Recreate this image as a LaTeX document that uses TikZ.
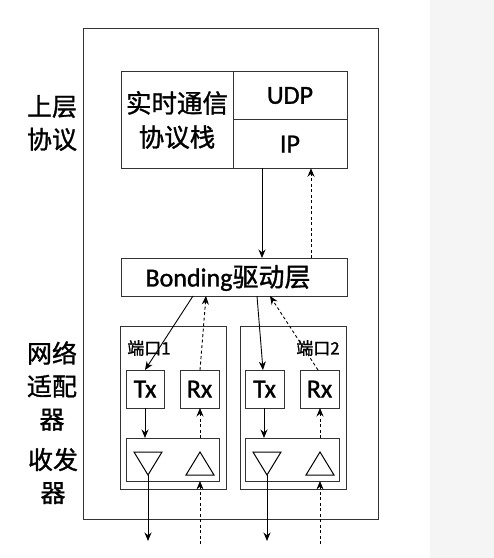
\documentclass[tikz,border=0pt]{standalone}
\usepackage{fontspec}
\setmainfont{Carlito}[FakeBold=1.2]
\newfontfamily\cjk{Noto Sans CJK SC}[FakeBold=1.2]
\usetikzlibrary{arrows.meta}
\begin{document}
\begin{tikzpicture}[x=1pt,y=-1pt,
  box/.style={draw=black!80, line width=0.8pt, rectangle, inner sep=0pt, outer sep=0pt},
  sol/.style={draw=black, line width=0.9pt, -{Stealth[length=8.5pt,width=7pt]}},
  dsh/.style={sol, dash pattern=on 3pt off 2.5pt},
  tri/.style={draw=black, line width=1pt, line join=miter},
  side/.style={font=\cjk\fontsize{25}{33}\selectfont, align=center, inner sep=0pt},
  big/.style={font=\fontsize{26}{34}\selectfont, align=center, inner sep=0pt},
  bigcjk/.style={font=\cjk\fontsize{25.5}{34}\selectfont, align=center, inner sep=0pt},
  port/.style={font=\cjk\fontsize{17}{18}\selectfont, inner sep=0pt}]
\useasboundingbox (0,0) rectangle (494,558);
\fill[white] (0,0) rectangle (494,558);
\fill[black!4] (430,0) rectangle (494,558);

% outer frame
\node[box, minimum width=295pt, minimum height=491pt] (outer) at (230.5,273.5) {};

% top protocol stack
\node[box, minimum width=112pt, minimum height=97pt] (rt) at (177,119.5) {};
\node[bigcjk] (rttext) at (177,120) {实时通信\\协议栈};
\node[box, minimum width=114pt, minimum height=48.5pt, big] (udp) at (290,95.5) {UDP};
\node[box, minimum width=114pt, minimum height=48.5pt, big] (ip) at (290,144) {IP};

% bonding
\node[box, minimum width=226pt, minimum height=38pt] (bond) at (234,277) {};
\node[inner sep=0pt] (bondtext) at (228,278) {\fontsize{26}{30}\selectfont Bonding{\cjk 驱动层}};

% ports
\node[box, minimum width=106pt, minimum height=163pt] (p1) at (173,407.5) {};
\node[box, minimum width=106pt, minimum height=163pt] (p2) at (293,407.5) {};
\node[port] (p1l) at (149,348) {端口1};
\node[port] (p2l) at (318,348) {端口2};

\node[box, minimum width=38pt, minimum height=38pt, big] (tx1) at (145,389) {Tx};
\node[box, minimum width=39pt, minimum height=38pt, big] (rx1) at (199.5,389) {Rx};
\node[box, minimum width=39pt, minimum height=38pt, big] (tx2) at (264.5,389) {Tx};
\node[box, minimum width=39pt, minimum height=38pt, big] (rx2) at (319.5,389) {Rx};

\node[box, minimum width=93pt, minimum height=43pt] (tr1) at (172.5,459.5) {};
\node[box, minimum width=94pt, minimum height=43pt] (tr2) at (292,459.5) {};

% triangles
\draw[tri] (134,452) -- (162,452) -- (148,475) -- cycle;
\draw[tri] (186,475) -- (214,475) -- (200,452) -- cycle;
\draw[tri] (253,452) -- (281,452) -- (267,475) -- cycle;
\draw[tri] (306,475) -- (334,475) -- (320,452) -- cycle;
\coordinate (a1) at (148,475);
\coordinate (a2) at (267,475);
\coordinate (o1) at (148,541);
\coordinate (i1) at (200,544);
\coordinate (o2) at (267,541);
\coordinate (i2) at (320,544);

% side labels
\node[side] (l1) at (52,123) {上层\\协议};
\node[side] (l2) at (52,386) {网络\\适配\\器};
\node[side] (l3) at (53,476) {收发\\器};

% connectors top
\draw[sol] (ip.south -| 262,0) -- (bond.north -| 262,0);
\draw[dsh] (bond.north -| 311,0) -- (ip.south -| 311,0);

% bonding to ports
\draw[sol] (bond.south -| 193,0) -- (tx1.north);
\draw[dsh] (rx1.north -| 200,0) -- (bond.south -| 206,0);
\draw[sol] (bond.south -| 257,0) -- (tx2.north -| 263,0);
\draw[dsh] (rx2.north -| 318,0) -- (bond.south -| 270,0);

% Tx/Rx to transceivers
\draw[sol] (tx1.south) -- (tr1.north -| tx1.south);
\draw[dsh] (tr1.north -| 200,0) -- (rx1.south -| 200,0);
\draw[sol] (tx2.south -| 264,0) -- (tr2.north -| 264,0);
\draw[dsh] (tr2.north -| 320,0) -- (rx2.south -| 320,0);

% external
\draw[sol] (a1) -- (o1);
\draw[dsh] (i1) -- (tr1.south -| i1);
\draw[sol] (a2) -- (o2);
\draw[dsh] (i2) -- (tr2.south -| i2);
\end{tikzpicture}
\end{document}
